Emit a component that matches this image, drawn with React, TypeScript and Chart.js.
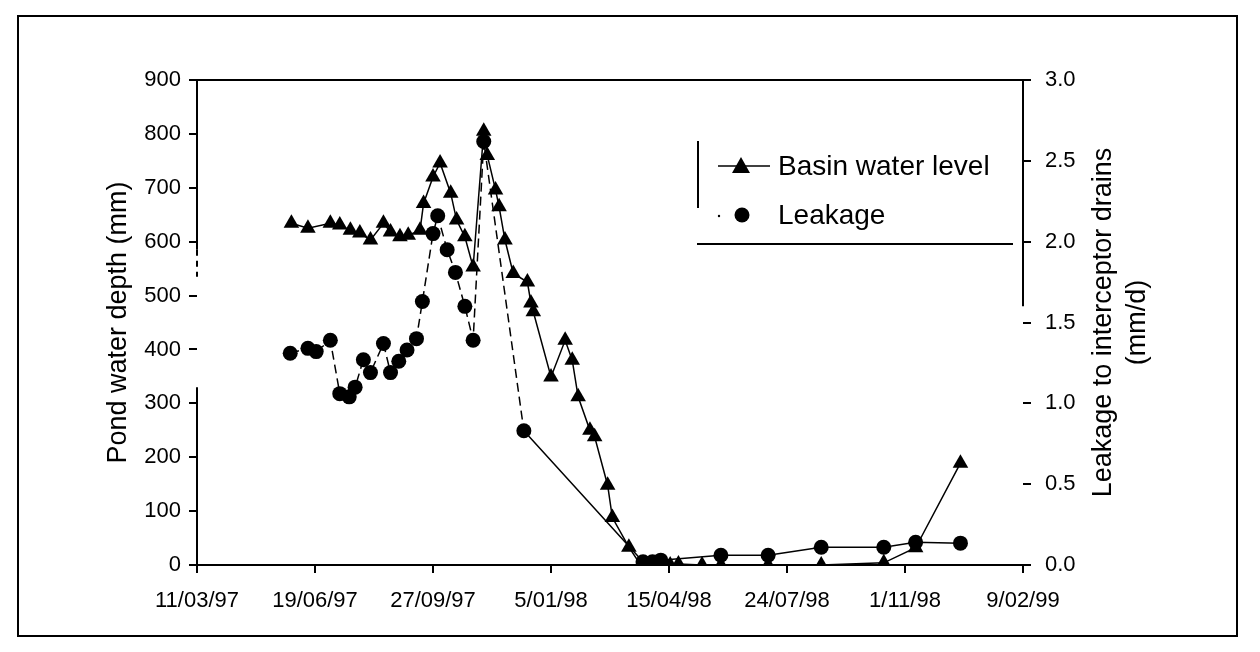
import React, { useEffect, useRef } from "react";
import { Chart, registerables } from "chart.js";

Chart.register(...registerables);

// x values are days since 11/03/97
const xTickLabels = ["11/03/97", "19/06/97", "27/09/97", "5/01/98", "15/04/98", "24/07/98", "1/11/98", "9/02/99"];

const basinDays = [80, 94, 113, 121, 130, 138, 147, 158, 164, 172, 179, 189, 192, 200, 206, 215, 220, 227, 234, 243, 246, 253, 256, 261, 268, 280, 283, 285, 300, 312, 318, 323, 333, 337, 348, 352, 366, 376, 381, 387, 393, 401, 408, 428, 444, 484, 529, 582, 609, 647];
const basinLevel = [634, 625, 634, 631, 621, 616, 603, 634, 618, 609, 612, 621, 671, 720, 746, 690, 640, 609, 553, 805, 760, 696, 665, 603, 541, 525, 486, 470, 349, 417, 380, 312, 250, 238, 148, 88, 33, 0, 0, 0, 0, 0, 2, 0, 0, 0, 0, 4, 32, 189];

const leakageDays = [79, 94, 101, 113, 121, 129, 134, 141, 147, 158, 164, 171, 178, 186, 191, 200, 204, 212, 219, 227, 234, 243, 277, 378, 386, 393, 444, 484, 529, 582, 609, 647];
const leakageValues = [1.31, 1.34, 1.32, 1.39, 1.06, 1.04, 1.10, 1.27, 1.19, 1.37, 1.19, 1.26, 1.33, 1.40, 1.63, 2.05, 2.16, 1.95, 1.81, 1.60, 1.39, 2.62, 0.83, 0.02, 0.02, 0.03, 0.06, 0.06, 0.11, 0.11, 0.14, 0.135];

const leftTitle = "Pond water depth (mm)";
const rightTitle = ["Leakage to interceptor drains", "(mm/d)"];
const legendLabels = ["Basin water level", "Leakage"];

const FONT = '"Liberation Sans", Arial, sans-serif';

const decor = {
  id: "decor",
  afterDraw(chart: any) {
    const ctx = chart.ctx as CanvasRenderingContext2D;
    const { left, right, top, bottom } = chart.chartArea;
    const y = chart.scales.y;
    const y2 = chart.scales.y2;
    const line = (x1: number, y1: number, x2: number, yb: number) => {
      ctx.beginPath();
      ctx.moveTo(x1, y1);
      ctx.lineTo(x2, yb);
      ctx.stroke();
    };
    ctx.save();
    ctx.strokeStyle = "#000";
    ctx.fillStyle = "#000";
    ctx.lineWidth = 2;
    // outer frame
    ctx.strokeRect(18, 16, 1219, 620);
    // top line and x axis
    line(left, top, right, top);
    line(left, bottom, right, bottom);
    // left axis (broken as in the scan)
    line(left, top, left, y.getPixelForValue(585));
    ctx.setLineDash([6, 5]);
    line(left, y.getPixelForValue(585), left, y.getPixelForValue(535));
    ctx.setLineDash([]);
    line(left, y.getPixelForValue(330), left, bottom);
    // right axis
    line(right, top, right, y2.getPixelForValue(1.6));

    // legend box remnants
    line(698, 141, 698, 208);
    line(697, 244, 1013, 244);

    // legend entries
    ctx.lineWidth = 1.5;
    line(718, 166, 770, 166);
    const tri = (cx: number, cy: number, r: number) => {
      ctx.beginPath();
      ctx.moveTo(cx, cy - r);
      ctx.lineTo(cx + r * 0.9, cy + r * 0.6);
      ctx.lineTo(cx - r * 0.9, cy + r * 0.6);
      ctx.closePath();
      ctx.fill();
    };
    tri(741, 167, 10);
    ctx.beginPath();
    ctx.arc(719, 216, 1.2, 0, Math.PI * 2);
    ctx.fill();
    ctx.beginPath();
    ctx.arc(742, 215, 7.5, 0, Math.PI * 2);
    ctx.fill();
    ctx.font = `28px ${FONT}`;
    ctx.textAlign = "left";
    ctx.textBaseline = "middle";
    ctx.fillText(legendLabels[0], 778, 167);
    ctx.fillText(legendLabels[1], 778, 216);

    // axis titles
    const mid = (top + bottom) / 2;
    ctx.font = `27px ${FONT}`;
    ctx.textAlign = "center";
    ctx.save();
    ctx.translate(119, mid);
    ctx.rotate(-Math.PI / 2);
    ctx.fillText(leftTitle, 0, 0);
    ctx.restore();
    ctx.save();
    ctx.translate(1104, mid);
    ctx.rotate(-Math.PI / 2);
    ctx.fillText(rightTitle[0], 0, 0);
    ctx.restore();
    ctx.save();
    ctx.translate(1138, mid);
    ctx.rotate(-Math.PI / 2);
    ctx.fillText(rightTitle[1], 0, 0);
    ctx.restore();
    ctx.restore();
  },
};

export default function App() {
  const ref = useRef<HTMLCanvasElement>(null);
  useEffect(() => {
    if (!ref.current) return;
    const tickFont = { family: FONT, size: 22 };
    const grid = {
      display: true,
      drawOnChartArea: false,
      drawTicks: true,
      tickLength: 8,
      color: "#000",
      lineWidth: 2,
    };
    const chart = new Chart(ref.current, {
      type: "line",
      data: {
        datasets: [
          {
            label: legendLabels[0],
            data: basinDays.map((d, i) => ({ x: d, y: basinLevel[i] })),
            yAxisID: "y",
            borderColor: "#000",
            backgroundColor: "#000",
            borderWidth: 1.5,
            pointStyle: "triangle",
            pointRadius: 9,
            pointBorderWidth: 0,
            tension: 0,
          },
          {
            label: legendLabels[1],
            data: leakageDays.map((d, i) => ({ x: d, y: leakageValues[i] })),
            yAxisID: "y2",
            borderColor: "#000",
            backgroundColor: "#000",
            borderWidth: 1.5,
            borderDash: [9, 5],
            segment: {
              borderDash: (c: any) => (c.p0.parsed.x >= 277 ? [] : [9, 5]),
            },
            pointStyle: "circle",
            pointRadius: 7.5,
            pointBorderWidth: 0,
            tension: 0,
          },
        ],
      },
      options: {
        responsive: false,
        animation: false,
        layout: { padding: { top: 80, left: 0, right: 0, bottom: 0 } },
        plugins: { legend: { display: false }, tooltip: { enabled: false } },
        scales: {
          x: {
            type: "linear",
            min: 0,
            max: 700,
            border: { display: false },
            grid: grid,
            ticks: {
              stepSize: 100,
              autoSkip: false,
              maxRotation: 0,
              padding: 15,
              color: "#000",
              font: tickFont,
              callback: (v: any) => xTickLabels[Math.round(Number(v) / 100)] ?? "",
            },
            afterFit: (s: any) => {
              s.height = 652 - 565;
            },
          },
          y: {
            type: "linear",
            position: "left",
            min: 0,
            max: 900,
            border: { display: false },
            grid: grid,
            ticks: { stepSize: 100, padding: 8, color: "#000", font: tickFont },
            afterFit: (s: any) => {
              s.width = 197;
            },
          },
          y2: {
            type: "linear",
            position: "right",
            min: 0,
            max: 3,
            border: { display: false },
            grid: grid,
            ticks: {
              stepSize: 0.5,
              padding: 14,
              color: "#000",
              font: tickFont,
              callback: (v: any) => Number(v).toFixed(1),
            },
            afterFit: (s: any) => {
              s.width = 1260 - 1023;
            },
          },
        },
      },
      plugins: [decor],
    });
    return () => chart.destroy();
  }, []);
  return (
    <div style={{ position: "absolute", left: 0, top: 0, width: 1260, height: 652, background: "#fff" }}>
      <canvas ref={ref} width={1260} height={652} style={{ display: "block", width: 1260, height: 652 }} />
    </div>
  );
}
